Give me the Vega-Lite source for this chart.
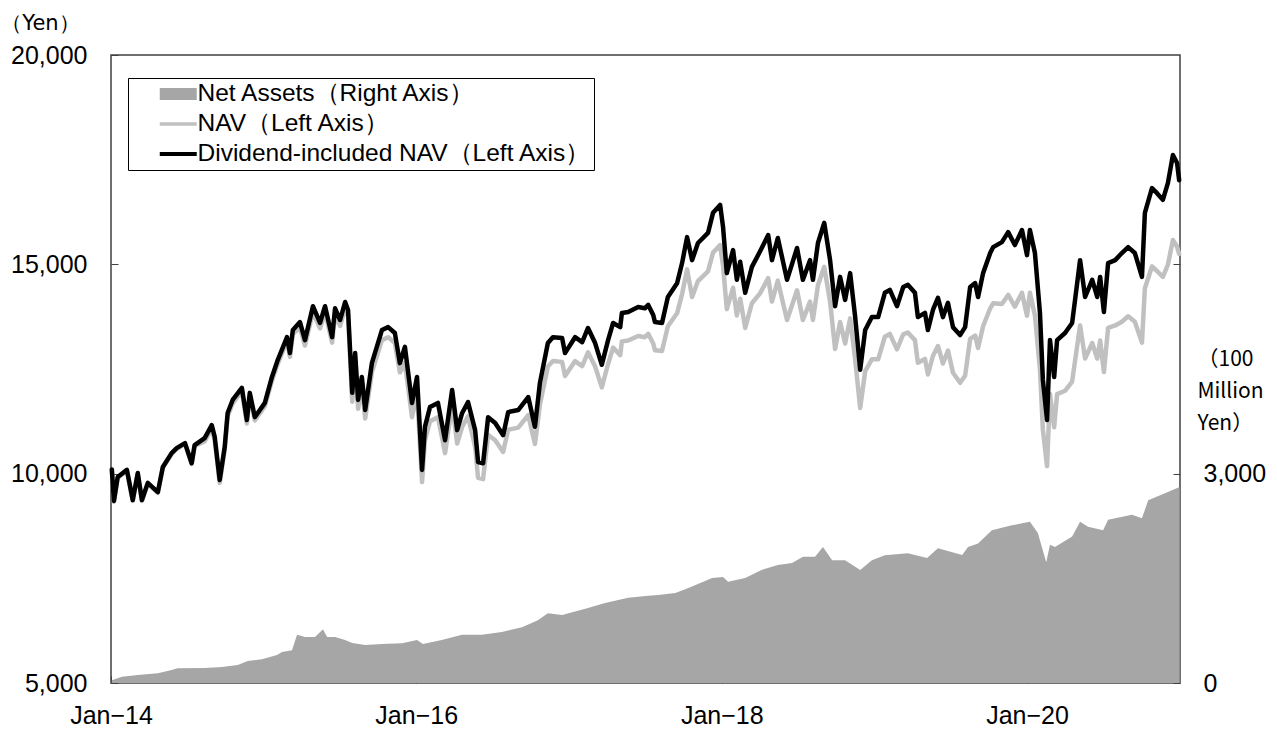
{
  "$schema": "https://vega.github.io/schema/vega-lite/v6.json",
  "width": 1069,
  "height": 628,
  "autosize": {"type": "none"},
  "padding": {"left": 111, "top": 55, "right": 97, "bottom": 46},
  "background": "white",
  "config": {
    "view": {"stroke": "#404040", "strokeWidth": 1.5},
    "font": "Liberation Sans"
  },
  "datasets": {
    "assets": [
      {"date": "2014-01-03", "assets": 40}, {"date": "2014-01-27", "assets": 90}, {"date": "2014-03-06", "assets": 115},
      {"date": "2014-04-23", "assets": 140}, {"date": "2014-05-26", "assets": 186}, {"date": "2014-06-09", "assets": 210},
      {"date": "2014-08-13", "assets": 215}, {"date": "2014-09-23", "assets": 230}, {"date": "2014-10-31", "assets": 258},
      {"date": "2014-11-24", "assets": 315}, {"date": "2014-12-28", "assets": 340}, {"date": "2015-02-02", "assets": 400},
      {"date": "2015-02-14", "assets": 445}, {"date": "2015-03-10", "assets": 470}, {"date": "2015-03-22", "assets": 690},
      {"date": "2015-04-10", "assets": 660}, {"date": "2015-05-04", "assets": 660}, {"date": "2015-05-23", "assets": 770},
      {"date": "2015-06-02", "assets": 660}, {"date": "2015-06-21", "assets": 660}, {"date": "2015-07-15", "assets": 615},
      {"date": "2015-08-01", "assets": 575}, {"date": "2015-09-01", "assets": 545}, {"date": "2015-10-11", "assets": 560},
      {"date": "2015-11-28", "assets": 570}, {"date": "2016-01-03", "assets": 615}, {"date": "2016-01-17", "assets": 560},
      {"date": "2016-03-02", "assets": 615}, {"date": "2016-04-20", "assets": 690}, {"date": "2016-06-06", "assets": 690},
      {"date": "2016-07-24", "assets": 730}, {"date": "2016-09-10", "assets": 800}, {"date": "2016-10-18", "assets": 900},
      {"date": "2016-11-11", "assets": 1000}, {"date": "2016-12-15", "assets": 975}, {"date": "2017-02-15", "assets": 1075},
      {"date": "2017-03-28", "assets": 1145}, {"date": "2017-05-22", "assets": 1220}, {"date": "2017-07-09", "assets": 1250},
      {"date": "2017-08-02", "assets": 1260}, {"date": "2017-09-12", "assets": 1290}, {"date": "2017-10-13", "assets": 1360},
      {"date": "2017-12-09", "assets": 1505}, {"date": "2018-01-04", "assets": 1520}, {"date": "2018-01-16", "assets": 1450},
      {"date": "2018-02-26", "assets": 1505}, {"date": "2018-04-06", "assets": 1620}, {"date": "2018-05-15", "assets": 1690},
      {"date": "2018-06-18", "assets": 1720}, {"date": "2018-07-14", "assets": 1810}, {"date": "2018-08-12", "assets": 1810},
      {"date": "2018-08-31", "assets": 1950}, {"date": "2018-09-22", "assets": 1760}, {"date": "2018-10-23", "assets": 1760},
      {"date": "2018-11-28", "assets": 1620}, {"date": "2018-12-26", "assets": 1760}, {"date": "2019-01-26", "assets": 1830},
      {"date": "2019-03-22", "assets": 1860}, {"date": "2019-05-07", "assets": 1790}, {"date": "2019-06-02", "assets": 1930},
      {"date": "2019-07-30", "assets": 1834}, {"date": "2019-08-13", "assets": 1950}, {"date": "2019-09-06", "assets": 2000},
      {"date": "2019-10-09", "assets": 2190}, {"date": "2019-11-26", "assets": 2260}, {"date": "2020-01-08", "assets": 2310},
      {"date": "2020-01-27", "assets": 2150}, {"date": "2020-02-16", "assets": 1730}, {"date": "2020-02-25", "assets": 1980},
      {"date": "2020-03-08", "assets": 1950}, {"date": "2020-04-18", "assets": 2100}, {"date": "2020-05-07", "assets": 2310},
      {"date": "2020-05-26", "assets": 2240}, {"date": "2020-07-01", "assets": 2190}, {"date": "2020-07-13", "assets": 2340},
      {"date": "2020-09-08", "assets": 2410}, {"date": "2020-10-02", "assets": 2360}, {"date": "2020-10-17", "assets": 2620},
      {"date": "2020-11-26", "assets": 2720}, {"date": "2020-12-31", "assets": 2810}
    ],
    "nav": [
      {"date": "2014-01-03", "nav": 10080, "dnav": 10100}, {"date": "2014-01-08", "nav": 9330, "dnav": 9350},
      {"date": "2014-01-17", "nav": 9900, "dnav": 9920}, {"date": "2014-02-08", "nav": 10070, "dnav": 10090},
      {"date": "2014-02-22", "nav": 9350, "dnav": 9370}, {"date": "2014-03-06", "nav": 10000, "dnav": 10015},
      {"date": "2014-03-16", "nav": 9350, "dnav": 9370}, {"date": "2014-03-30", "nav": 9760, "dnav": 9780},
      {"date": "2014-04-23", "nav": 9540, "dnav": 9560}, {"date": "2014-05-05", "nav": 10140, "dnav": 10160},
      {"date": "2014-05-26", "nav": 10470, "dnav": 10490}, {"date": "2014-06-07", "nav": 10590, "dnav": 10610},
      {"date": "2014-06-27", "nav": 10710, "dnav": 10730}, {"date": "2014-07-13", "nav": 10230, "dnav": 10250},
      {"date": "2014-07-20", "nav": 10660, "dnav": 10680}, {"date": "2014-08-13", "nav": 10770, "dnav": 10850},
      {"date": "2014-08-30", "nav": 11080, "dnav": 11160}, {"date": "2014-09-06", "nav": 10800, "dnav": 10880},
      {"date": "2014-09-18", "nav": 9780, "dnav": 9850}, {"date": "2014-09-30", "nav": 10570, "dnav": 10640},
      {"date": "2014-10-07", "nav": 11370, "dnav": 11450}, {"date": "2014-10-19", "nav": 11680, "dnav": 11760},
      {"date": "2014-11-10", "nav": 11970, "dnav": 12050}, {"date": "2014-11-22", "nav": 11200, "dnav": 11280},
      {"date": "2014-11-29", "nav": 11850, "dnav": 11930}, {"date": "2014-12-11", "nav": 11270, "dnav": 11350},
      {"date": "2015-01-04", "nav": 11610, "dnav": 11690}, {"date": "2015-01-21", "nav": 12220, "dnav": 12310},
      {"date": "2015-02-04", "nav": 12630, "dnav": 12720}, {"date": "2015-02-26", "nav": 13170, "dnav": 13260},
      {"date": "2015-03-05", "nav": 12790, "dnav": 12880}, {"date": "2015-03-12", "nav": 13340, "dnav": 13430},
      {"date": "2015-03-29", "nav": 13490, "dnav": 13620}, {"date": "2015-04-10", "nav": 13060, "dnav": 13190},
      {"date": "2015-04-29", "nav": 13860, "dnav": 14000}, {"date": "2015-05-16", "nav": 13470, "dnav": 13600},
      {"date": "2015-05-28", "nav": 13860, "dnav": 14000}, {"date": "2015-06-14", "nav": 13130, "dnav": 13260},
      {"date": "2015-06-21", "nav": 13810, "dnav": 13950}, {"date": "2015-07-03", "nav": 13530, "dnav": 13670},
      {"date": "2015-07-15", "nav": 13960, "dnav": 14100}, {"date": "2015-07-22", "nav": 13770, "dnav": 13910},
      {"date": "2015-08-01", "nav": 11720, "dnav": 11930}, {"date": "2015-08-08", "nav": 12650, "dnav": 12880},
      {"date": "2015-08-15", "nav": 11550, "dnav": 11760}, {"date": "2015-08-24", "nav": 12090, "dnav": 12310},
      {"date": "2015-09-01", "nav": 11320, "dnav": 11520}, {"date": "2015-09-17", "nav": 12420, "dnav": 12640},
      {"date": "2015-10-11", "nav": 13190, "dnav": 13430}, {"date": "2015-10-26", "nav": 13260, "dnav": 13500},
      {"date": "2015-11-11", "nav": 13120, "dnav": 13360}, {"date": "2015-11-23", "nav": 12420, "dnav": 12640},
      {"date": "2015-12-05", "nav": 12650, "dnav": 13030}, {"date": "2015-12-22", "nav": 11350, "dnav": 11690},
      {"date": "2016-01-03", "nav": 11950, "dnav": 12310}, {"date": "2016-01-15", "nav": 9800, "dnav": 10090},
      {"date": "2016-01-22", "nav": 10800, "dnav": 11120}, {"date": "2016-02-03", "nav": 11250, "dnav": 11590},
      {"date": "2016-02-22", "nav": 11350, "dnav": 11690}, {"date": "2016-03-10", "nav": 10490, "dnav": 10800},
      {"date": "2016-03-27", "nav": 11650, "dnav": 12000}, {"date": "2016-04-08", "nav": 10720, "dnav": 11040},
      {"date": "2016-04-20", "nav": 11120, "dnav": 11450}, {"date": "2016-05-04", "nav": 11370, "dnav": 11710},
      {"date": "2016-05-21", "nav": 10640, "dnav": 11040}, {"date": "2016-05-28", "nav": 9900, "dnav": 10280},
      {"date": "2016-06-09", "nav": 9870, "dnav": 10250}, {"date": "2016-06-21", "nav": 10930, "dnav": 11350},
      {"date": "2016-07-08", "nav": 10800, "dnav": 11210}, {"date": "2016-07-27", "nav": 10520, "dnav": 10920},
      {"date": "2016-08-08", "nav": 11050, "dnav": 11470}, {"date": "2016-09-01", "nav": 11100, "dnav": 11520},
      {"date": "2016-09-25", "nav": 11400, "dnav": 11830}, {"date": "2016-10-11", "nav": 10710, "dnav": 11120},
      {"date": "2016-10-23", "nav": 11650, "dnav": 12170}, {"date": "2016-11-11", "nav": 12560, "dnav": 13120},
      {"date": "2016-11-23", "nav": 12690, "dnav": 13260}, {"date": "2016-12-15", "nav": 12670, "dnav": 13240},
      {"date": "2016-12-22", "nav": 12330, "dnav": 12880}, {"date": "2017-01-15", "nav": 12690, "dnav": 13260},
      {"date": "2017-02-01", "nav": 12570, "dnav": 13140}, {"date": "2017-02-15", "nav": 12900, "dnav": 13480},
      {"date": "2017-03-04", "nav": 12560, "dnav": 13120}, {"date": "2017-03-20", "nav": 12060, "dnav": 12600},
      {"date": "2017-04-04", "nav": 12620, "dnav": 13190}, {"date": "2017-04-16", "nav": 13010, "dnav": 13600},
      {"date": "2017-05-03", "nav": 12830, "dnav": 13500}, {"date": "2017-05-07", "nav": 13160, "dnav": 13840},
      {"date": "2017-05-22", "nav": 13180, "dnav": 13860}, {"date": "2017-06-15", "nav": 13290, "dnav": 13980},
      {"date": "2017-07-01", "nav": 13260, "dnav": 13950}, {"date": "2017-07-09", "nav": 13340, "dnav": 14030},
      {"date": "2017-07-21", "nav": 13110, "dnav": 13790}, {"date": "2017-07-25", "nav": 12950, "dnav": 13620},
      {"date": "2017-08-11", "nav": 12930, "dnav": 13600}, {"date": "2017-08-25", "nav": 13520, "dnav": 14220},
      {"date": "2017-09-16", "nav": 13830, "dnav": 14550}, {"date": "2017-09-28", "nav": 14290, "dnav": 15030},
      {"date": "2017-10-10", "nav": 14880, "dnav": 15650}, {"date": "2017-10-22", "nav": 14220, "dnav": 15100},
      {"date": "2017-11-05", "nav": 14600, "dnav": 15510}, {"date": "2017-11-29", "nav": 14830, "dnav": 15750},
      {"date": "2017-12-11", "nav": 15280, "dnav": 16230}, {"date": "2017-12-28", "nav": 15460, "dnav": 16420},
      {"date": "2018-01-04", "nav": 14960, "dnav": 15890}, {"date": "2018-01-13", "nav": 13930, "dnav": 14790},
      {"date": "2018-01-28", "nav": 14440, "dnav": 15340}, {"date": "2018-02-06", "nav": 13780, "dnav": 14630},
      {"date": "2018-02-14", "nav": 14180, "dnav": 15060}, {"date": "2018-02-26", "nav": 13480, "dnav": 14320},
      {"date": "2018-03-14", "nav": 14070, "dnav": 14940}, {"date": "2018-04-02", "nav": 14300, "dnav": 15300},
      {"date": "2018-04-22", "nav": 14670, "dnav": 15700}, {"date": "2018-05-01", "nav": 14110, "dnav": 15100},
      {"date": "2018-05-15", "nav": 14610, "dnav": 15630}, {"date": "2018-06-06", "nav": 13670, "dnav": 14630},
      {"date": "2018-06-30", "nav": 14380, "dnav": 15390}, {"date": "2018-07-14", "nav": 13670, "dnav": 14630},
      {"date": "2018-07-31", "nav": 14110, "dnav": 15100}, {"date": "2018-08-07", "nav": 13670, "dnav": 14630},
      {"date": "2018-08-19", "nav": 14500, "dnav": 15510}, {"date": "2018-09-03", "nav": 14940, "dnav": 15990},
      {"date": "2018-09-17", "nav": 14110, "dnav": 15100}, {"date": "2018-09-29", "nav": 12980, "dnav": 14000},
      {"date": "2018-10-11", "nav": 13620, "dnav": 14700}, {"date": "2018-10-23", "nav": 13110, "dnav": 14150},
      {"date": "2018-11-04", "nav": 13710, "dnav": 14790}, {"date": "2018-11-16", "nav": 12730, "dnav": 13740},
      {"date": "2018-11-28", "nav": 11570, "dnav": 12480}, {"date": "2018-12-10", "nav": 12450, "dnav": 13430},
      {"date": "2018-12-26", "nav": 12730, "dnav": 13740}, {"date": "2019-01-10", "nav": 12730, "dnav": 13740},
      {"date": "2019-01-26", "nav": 13270, "dnav": 14320}, {"date": "2019-02-07", "nav": 13340, "dnav": 14390},
      {"date": "2019-02-24", "nav": 12970, "dnav": 14000}, {"date": "2019-03-11", "nav": 13330, "dnav": 14460},
      {"date": "2019-03-22", "nav": 13370, "dnav": 14510}, {"date": "2019-04-08", "nav": 13190, "dnav": 14320},
      {"date": "2019-04-15", "nav": 12650, "dnav": 13740}, {"date": "2019-05-02", "nav": 12740, "dnav": 13840},
      {"date": "2019-05-09", "nav": 12370, "dnav": 13430}, {"date": "2019-05-21", "nav": 12810, "dnav": 13910},
      {"date": "2019-06-02", "nav": 13050, "dnav": 14200}, {"date": "2019-06-14", "nav": 12630, "dnav": 13740},
      {"date": "2019-06-26", "nav": 12940, "dnav": 14080}, {"date": "2019-07-08", "nav": 12410, "dnav": 13500},
      {"date": "2019-07-25", "nav": 12170, "dnav": 13310}, {"date": "2019-08-06", "nav": 12340, "dnav": 13500},
      {"date": "2019-08-18", "nav": 13220, "dnav": 14460}, {"date": "2019-08-30", "nav": 13300, "dnav": 14550},
      {"date": "2019-09-06", "nav": 13000, "dnav": 14220}, {"date": "2019-09-18", "nav": 13520, "dnav": 14790},
      {"date": "2019-10-05", "nav": 13950, "dnav": 15270}, {"date": "2019-10-12", "nav": 14070, "dnav": 15410},
      {"date": "2019-11-02", "nav": 14050, "dnav": 15530}, {"date": "2019-11-17", "nav": 14270, "dnav": 15770},
      {"date": "2019-12-03", "nav": 13990, "dnav": 15460}, {"date": "2019-12-20", "nav": 14320, "dnav": 15820},
      {"date": "2020-01-01", "nav": 13770, "dnav": 15220}, {"date": "2020-01-08", "nav": 14320, "dnav": 15820},
      {"date": "2020-01-20", "nav": 13780, "dnav": 15270}, {"date": "2020-02-01", "nav": 12490, "dnav": 13840},
      {"date": "2020-02-08", "nav": 11050, "dnav": 12240}, {"date": "2020-02-18", "nav": 10180, "dnav": 11280},
      {"date": "2020-02-25", "nav": 11900, "dnav": 13190}, {"date": "2020-03-06", "nav": 11110, "dnav": 12310},
      {"date": "2020-03-13", "nav": 11900, "dnav": 13190}, {"date": "2020-04-01", "nav": 11980, "dnav": 13360},
      {"date": "2020-04-18", "nav": 12200, "dnav": 13600}, {"date": "2020-04-30", "nav": 13050, "dnav": 14550},
      {"date": "2020-05-07", "nav": 13540, "dnav": 15100}, {"date": "2020-05-19", "nav": 12750, "dnav": 14220},
      {"date": "2020-06-05", "nav": 13120, "dnav": 14630}, {"date": "2020-06-17", "nav": 12750, "dnav": 14220},
      {"date": "2020-06-24", "nav": 13180, "dnav": 14700}, {"date": "2020-07-03", "nav": 12430, "dnav": 13860},
      {"date": "2020-07-13", "nav": 13480, "dnav": 15030}, {"date": "2020-07-30", "nav": 13540, "dnav": 15100},
      {"date": "2020-08-15", "nav": 13630, "dnav": 15270}, {"date": "2020-08-30", "nav": 13760, "dnav": 15410},
      {"date": "2020-09-15", "nav": 13630, "dnav": 15270}, {"date": "2020-10-02", "nav": 13130, "dnav": 14700},
      {"date": "2020-10-09", "nav": 14430, "dnav": 16230}, {"date": "2020-10-26", "nav": 14950, "dnav": 16820},
      {"date": "2020-11-07", "nav": 14840, "dnav": 16700}, {"date": "2020-11-21", "nav": 14700, "dnav": 16540},
      {"date": "2020-12-03", "nav": 14990, "dnav": 16940}, {"date": "2020-12-15", "nav": 15580, "dnav": 17610},
      {"date": "2020-12-25", "nav": 15420, "dnav": 17420}, {"date": "2020-12-30", "nav": 15250, "dnav": 17010}
    ]
  },
  "encoding": {
    "x": {
      "field": "date",
      "type": "temporal",
      "scale": {
        "type": "utc",
        "domain": [{"year": 2014, "month": 1, "date": 1, "utc": true}, {"year": 2021, "month": 1, "date": 1, "utc": true}]
      },
      "axis": {
        "title": null,
        "values": [
          {"year": 2014, "month": 1, "date": 1, "utc": true},
          {"year": 2016, "month": 1, "date": 1, "utc": true},
          {"year": 2018, "month": 1, "date": 1, "utc": true},
          {"year": 2020, "month": 1, "date": 1, "utc": true}
        ],
        "labelExpr": "utcFormat(datum.value, '%b') + '−' + utcFormat(datum.value, '%y')",
        "domain": false,
        "grid": false,
        "tickSize": -7,
        "tickColor": "#404040",
        "labelFontSize": 25,
        "labelColor": "#000000",
        "labelPadding": 27,
        "labelFlush": false,
        "labelOverlap": false
      }
    }
  },
  "layer": [
    {
      "data": {"name": "assets"},
      "mark": {"type": "area", "opacity": 1},
      "encoding": {
        "y": {
          "field": "assets",
          "type": "quantitative",
          "scale": {"domain": [0, 9000], "nice": false, "zero": true},
          "axis": {
            "orient": "right",
            "values": [0, 3000, 6000],
            "labelExpr": "datum.value <= 3000 ? format(datum.value, ',') : ''",
            "domain": false,
            "grid": false,
            "tickSize": -7,
            "tickColor": "#404040",
            "labelFontSize": 25,
            "labelColor": "#000000",
            "labelPadding": 30,
            "labelFlush": false,
            "labelOverlap": false,
            "title": ["（100", "Million", "Yen）"],
            "titleAngle": 0,
            "titleAlign": "left",
            "titleBaseline": "top",
            "titleX": 17,
            "titleY": 293,
            "titleFont": "Noto Sans CJK JP",
            "titleFontSize": 21,
            "titleFontWeight": "normal",
            "titleColor": "#000000",
            "titleLineHeight": 32
          }
        },
        "color": {
          "datum": "Net Assets（Right Axis）",
          "type": "nominal",
          "scale": {
            "domain": ["Net Assets（Right Axis）", "NAV（Left Axis）", "Dividend-included NAV（Left Axis）"],
            "range": ["#a6a6a6", "#c0c0c0", "#000000"]
          },
          "legend": {
            "orient": "none",
            "legendX": 17,
            "legendY": 23,
            "title": null,
            "fillColor": "#ffffff",
            "strokeColor": "#000000",
            "padding": 2,
            "symbolOffset": 36,
            "labelOffset": 7,
            "rowPadding": 2,
            "clipHeight": 28,
            "symbolType": "stroke",
            "symbolSize": 1369,
            "symbolFillColor": "transparent",
            "symbolOpacity": 1,
            "symbolStrokeColor": {"expr": "datum.value === 'Net Assets（Right Axis）' ? '#a6a6a6' : (datum.value === 'NAV（Left Axis）' ? '#c0c0c0' : '#000000')"},
            "symbolStrokeWidth": {"expr": "datum.value === 'Net Assets（Right Axis）' ? 12 : (datum.value === 'NAV（Left Axis）' ? 3.5 : 4)"},
            "labelFont": "Liberation Sans",
            "labelFontSize": 24.5,
            "labelColor": "#000000",
            "labelLimit": 800
          }
        }
      }
    },
    {
      "data": {"name": "nav"},
      "layer": [
        {
          "mark": {"type": "line", "strokeWidth": 4.5, "strokeJoin": "round", "strokeCap": "round"},
          "encoding": {
            "y": {
              "field": "nav",
              "type": "quantitative",
              "scale": {"domain": [5000, 20000], "nice": false, "zero": false},
              "axis": {
                "orient": "left",
                "values": [5000, 10000, 15000, 20000],
                "labelExpr": "format(datum.value, ',')",
                "domain": false,
                "grid": false,
                "tickSize": -7,
                "tickColor": "#404040",
                "labelFontSize": 25,
                "labelColor": "#000000",
                "labelPadding": 31,
                "labelFlush": false,
                "labelOverlap": false,
                "title": "（Yen）",
                "titleAngle": 0,
                "titleAlign": "center",
                "titleBaseline": "middle",
                "titleX": -71,
                "titleY": -32,
                "titleFont": "DejaVu Sans",
                "titleFontSize": 21,
                "titleFontWeight": "normal",
                "titleColor": "#000000"
              }
            },
            "color": {"datum": "NAV（Left Axis）", "type": "nominal"}
          }
        },
        {
          "mark": {"type": "line", "strokeWidth": 4.5, "strokeJoin": "round", "strokeCap": "round"},
          "encoding": {
            "y": {
              "field": "dnav",
              "type": "quantitative",
              "scale": {"domain": [5000, 20000], "nice": false, "zero": false},
              "axis": {
                "orient": "left",
                "values": [5000, 10000, 15000, 20000],
                "labelExpr": "format(datum.value, ',')",
                "domain": false,
                "grid": false,
                "tickSize": -7,
                "tickColor": "#404040",
                "labelFontSize": 25,
                "labelColor": "#000000",
                "labelPadding": 31,
                "labelFlush": false,
                "labelOverlap": false,
                "title": "（Yen）",
                "titleAngle": 0,
                "titleAlign": "center",
                "titleBaseline": "middle",
                "titleX": -71,
                "titleY": -32,
                "titleFont": "DejaVu Sans",
                "titleFontSize": 21,
                "titleFontWeight": "normal",
                "titleColor": "#000000"
              }
            },
            "color": {"datum": "Dividend-included NAV（Left Axis）", "type": "nominal"}
          }
        }
      ]
    }
  ],
  "resolve": {"scale": {"y": "independent"}}
}
